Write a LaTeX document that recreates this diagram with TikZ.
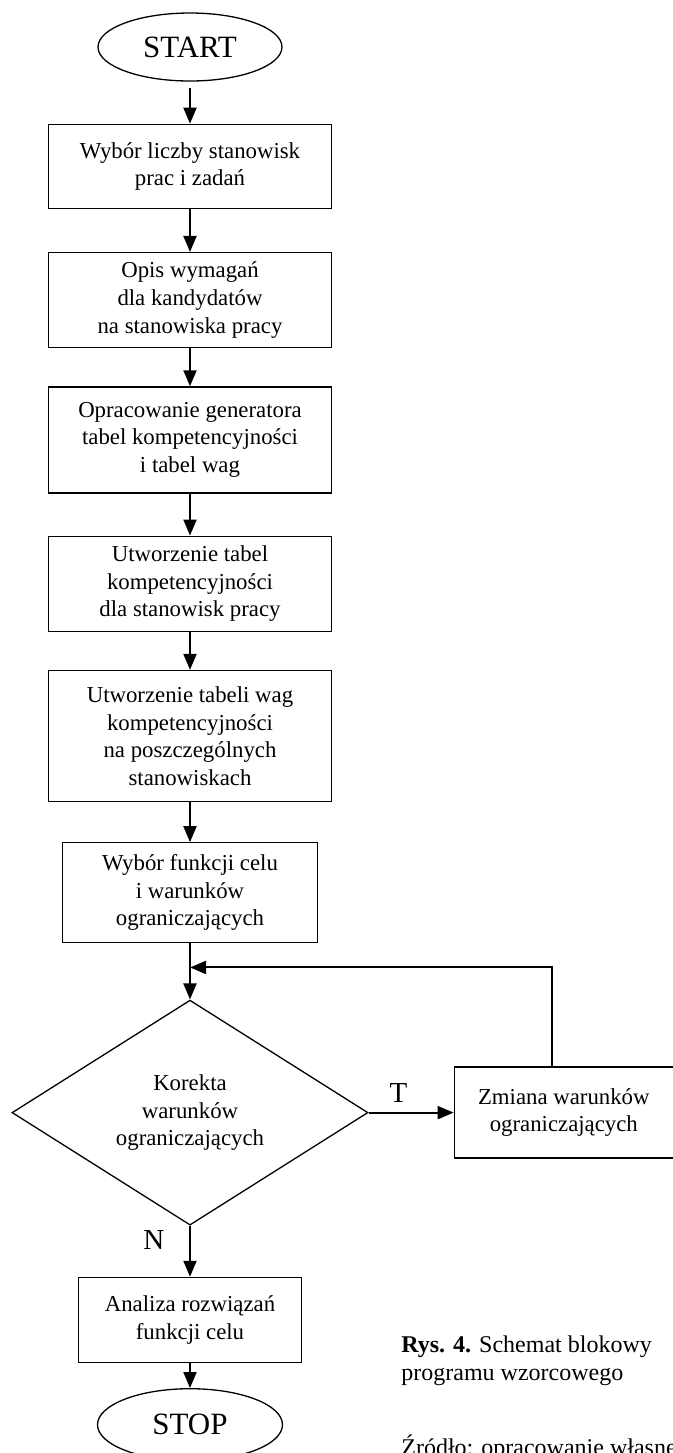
\documentclass[tikz,border=0pt]{standalone}
\usepackage{fontspec}
\setmainfont{Liberation Serif}
\usetikzlibrary{arrows.meta,shapes,positioning}

\begin{document}
\begin{tikzpicture}[
        basic/.style  = {draw, line width=0.65pt, rectangle, align=center, inner sep=2pt, font=\fontsize{11.4}{13.8}\selectfont},
        term/.style   = {draw, line width=0.65pt, ellipse, minimum width=92pt, minimum height=34pt, inner sep=0pt, font=\fontsize{15.5}{18}\selectfont},
        wide/.style   = {basic, minimum width=141.5pt},
        cond/.style   = {draw, line width=0.65pt, diamond, aspect=1.6, minimum width=178pt, minimum height=112.5pt, inner sep=0pt, align=center, font=\fontsize{11.4}{13.8}\selectfont},
        lbl/.style    = {font=\fontsize{14.5}{16}\selectfont},
        flow/.style   = {->, line width=1pt},
        >={Triangle[length=8pt,width=6.5pt]}]
        
        % frame of the whole figure
        \useasboundingbox (0,0) rectangle (336.5pt,-726.5pt);
        
        % main column, each block placed under the previous one
        \node[term] (start) at (95pt,-23.5pt) {START};
        \node[wide, minimum height=42pt, below=21pt of start] (k1) {Wybór liczby stanowisk\\ prac i zadań};
        \node[wide, minimum height=47.5pt, below=21.5pt of k1] (k2) {Opis wymagań\\ dla kandydatów\\ na stanowiska pracy};
        \node[wide, minimum height=53pt, below=19pt of k2] (k3) {Opracowanie generatora\\ tabel kompetencyjności\\ i tabel wag};
        \node[wide, minimum height=47.5pt, below=21pt of k3] (k4) {Utworzenie tabel\\ kompetencyjności\\ dla stanowisk pracy};
        \node[wide, minimum height=65.5pt, below=19pt of k4] (k5) {Utworzenie tabeli wag\\ kompetencyjności\\ na poszczególnych\\ stanowiskach};
        \node[basic, minimum width=127.5pt, minimum height=50pt, below=20pt of k5] (k6) {Wybór funkcji celu\\ i warunków\\ ograniczających};
        \node[cond, below=28pt of k6] (dec) {Korekta\\ warunków\\ ograniczających};
        \node[basic, minimum width=111.5pt, minimum height=42.5pt, below=25.5pt of dec] (k7) {Analiza rozwiązań\\ funkcji celu};
        \node[term, minimum width=92.5pt, minimum height=36pt, below=12.5pt of k7] (stop) {STOP};
        
        % side block of the loop
        \node[basic, minimum width=109.5pt, minimum height=45.5pt, right=42.5pt of dec] (chg) {Zmiana warunków\\ ograniczających};
        \coordinate[below=12pt of k6] (join);
        
        % connectors
        \draw[flow, shorten <=3pt] (start) -- (k1);
        \foreach \a/\b in {k1/k2, k2/k3, k3/k4, k4/k5, k5/k6, k6/dec, k7/stop}
        \draw[flow] (\a) -- (\b);
        
        \draw[flow] (dec.east) -- node[lbl, above=1pt, pos=.35] (tl) {T} (chg.west);
        \draw[flow] (dec.south) -- node[lbl, left=9pt, pos=.28] (nl) {N} (k7.north);
        \draw[flow] ([xshift=-5.75pt]chg.north) |- (join);
        
        % caption
        \node[anchor=base west, align=left, inner sep=0pt, font=\fontsize{12}{14}\selectfont] (cap) at (200.5pt,-690pt) {\textbf{Rys. 4.} Schemat blokowy\\ programu wzorcowego};
        \node[anchor=base west, inner sep=0pt, font=\fontsize{12}{14}\selectfont] (src) at (200.5pt,-727.5pt) {Źródło: opracowanie własne};
        
    \end{tikzpicture}
\end{document}
